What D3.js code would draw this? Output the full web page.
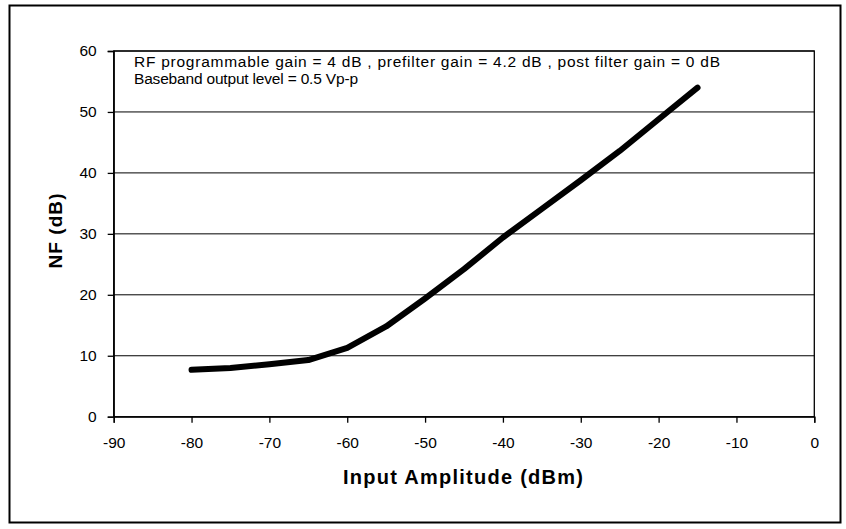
<!DOCTYPE html>
<html>
<head>
<meta charset="utf-8">
<script src="https://cdn.jsdelivr.net/npm/d3@7"></script>
<style>
  body { margin: 0; background: #fff; }
  svg { display: block; font-family: "Liberation Sans", Arial, sans-serif; }
</style>
</head>
<body>
<svg id="chart" width="846" height="529"></svg>
<script>
// input amplitude (dBm) and noise figure (dB)
const inputDbm = [-80, -75, -70, -65, -60, -55, -50, -45, -40, -35, -30, -25, -20, -15];
const nfDb = [7.7, 8.0, 8.6, 9.3, 11.3, 14.8, 19.4, 24.2, 29.4, 34.1, 38.8, 43.6, 48.8, 54.0];

const xTicks = [-90, -80, -70, -60, -50, -40, -30, -20, -10, 0];
const yTicks = [0, 10, 20, 30, 40, 50, 60];
const notes = [
  "RF programmable gain = 4 dB , prefilter gain = 4.2 dB , post filter gain = 0 dB",
  "Baseband output level = 0.5 Vp-p"
];
const noteWidths = [586, 224];

const svg = d3.select("#chart");
const margin = { left: 113.7, right: 846 - 814.3, top: 51, bottom: 529 - 416.7 };
const innerW = 846 - margin.left - margin.right;
const innerH = 529 - margin.top - margin.bottom;

// outer frame
svg.append("rect")
  .attr("x", 9.5).attr("y", 5.5)
  .attr("width", 831).attr("height", 517)
  .attr("fill", "none").attr("stroke", "#000").attr("stroke-width", 2);

const x = d3.scaleLinear().domain([-90, 0]).range([0, innerW]);
const y = d3.scaleLinear().domain([0, 60]).range([innerH, 0]);

const g = svg.append("g").attr("transform", `translate(${margin.left},${margin.top})`);

// gridlines
g.selectAll("line.grid")
  .data(yTicks.slice(1))
  .join("line")
  .attr("class", "grid")
  .attr("x1", 0).attr("x2", innerW)
  .attr("y1", (d) => y(d)).attr("y2", (d) => y(d))
  .attr("stroke", "#000").attr("stroke-width", 1);

// plot border
g.append("rect")
  .attr("width", innerW).attr("height", innerH)
  .attr("fill", "none").attr("stroke", "#000").attr("stroke-width", 1.3);

const plain = (d) => String(d);
const xAxis = g.append("g")
  .attr("transform", `translate(0,${innerH})`)
  .call(d3.axisBottom(x).tickValues(xTicks).tickSize(6).tickPadding(14).tickFormat(plain));
const yAxis = g.append("g")
  .call(d3.axisLeft(y).tickValues(yTicks).tickSize(6).tickPadding(11).tickFormat(plain));

for (const ax of [xAxis, yAxis]) {
  ax.select(".domain").attr("stroke", "#000").attr("stroke-width", 1.3);
  ax.selectAll(".tick line").attr("stroke", "#000").attr("stroke-width", 1.3);
  ax.selectAll(".tick text")
    .attr("fill", "#000")
    .attr("font-size", 15.5)
    .attr("font-family", "Liberation Sans, Arial, sans-serif");
}

// data line
const line = d3.line()
  .x((d, i) => x(inputDbm[i]))
  .y((d) => y(d));

g.append("path")
  .datum(nfDb)
  .attr("d", line)
  .attr("fill", "none")
  .attr("stroke", "#000")
  .attr("stroke-width", 6)
  .attr("stroke-linecap", "round")
  .attr("stroke-linejoin", "round");

// annotation
svg.selectAll("text.note")
  .data(notes)
  .join("text")
  .attr("class", "note")
  .attr("x", 134)
  .attr("y", (d, i) => 66.7 + i * 17)
  .attr("font-size", 15.5)
  .attr("fill", "#000")
  .attr("textLength", (d, i) => noteWidths[i])
  .attr("lengthAdjust", "spacing")
  .text((d) => d);

// axis titles
svg.append("text")
  .attr("x", 463)
  .attr("y", 484)
  .attr("text-anchor", "middle")
  .attr("font-size", 20)
  .attr("font-weight", "bold")
  .attr("textLength", 240)
  .attr("lengthAdjust", "spacing")
  .text("Input Amplitude (dBm)");

svg.append("text")
  .attr("transform", `translate(62,${231}) rotate(-90)`)
  .attr("text-anchor", "middle")
  .attr("font-size", 19)
  .attr("font-weight", "bold")
  .attr("textLength", 75)
  .attr("lengthAdjust", "spacing")
  .text("NF (dB)");
</script>
</body>
</html>
